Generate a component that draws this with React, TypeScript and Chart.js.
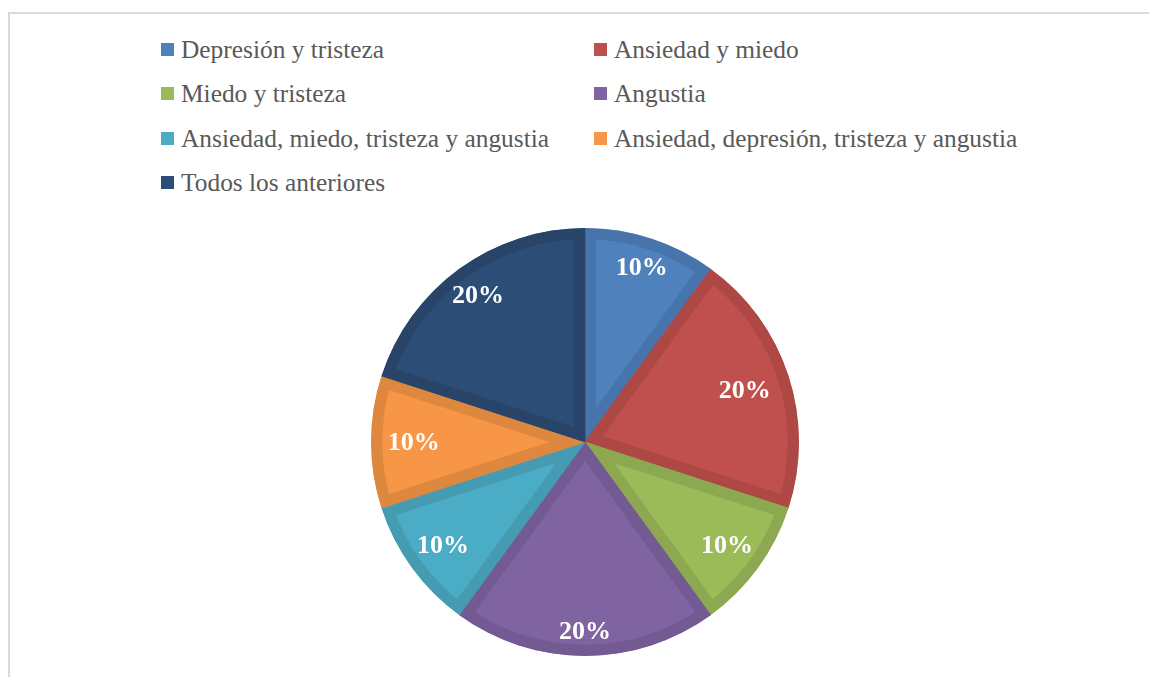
import React, { useEffect, useRef } from "react";
import { Chart, registerables } from "chart.js";

Chart.register(...registerables);

const categories: string[] = [
  "Depresión y tristeza",
  "Ansiedad y miedo",
  "Miedo y tristeza",
  "Angustia",
  "Ansiedad, miedo, tristeza y angustia",
  "Ansiedad, depresión, tristeza y angustia",
  "Todos los anteriores",
];
const values: number[] = [10, 20, 10, 20, 10, 10, 20];
const colors: string[] = ["#4F81BD", "#C0504D", "#9BBB59", "#8064A2", "#4BACC6", "#F79646", "#2C4D75"];
const labelRadii: number[] = [0.86, 0.785, 0.82, 0.885, 0.82, 0.8, 0.85];

function darken(hex: string, f: number): string {
  const n = parseInt(hex.slice(1), 16);
  const r = Math.round(((n >> 16) & 255) * f);
  const g = Math.round(((n >> 8) & 255) * f);
  const b = Math.round((n & 255) * f);
  return `rgb(${r},${g},${b})`;
}

const labelPlugin = {
  id: "sliceLabels",
  afterDatasetsDraw(chart: any) {
    const ctx = chart.ctx;
    const meta = chart.getDatasetMeta(0);
    const data = chart.data.datasets[0].data as number[];
    const total = data.reduce((a, b) => a + b, 0);
    ctx.save();
    ctx.fillStyle = "#ffffff";
    ctx.font = "bold 26px 'Liberation Serif'";
    ctx.textAlign = "center";
    ctx.textBaseline = "middle";
    meta.data.forEach((arc: any, i: number) => {
      const p = arc.getProps(["x", "y", "startAngle", "endAngle", "outerRadius"], true);
      const mid = (p.startAngle + p.endAngle) / 2;
      const r = p.outerRadius * labelRadii[i];
      const txt = Math.round((data[i] / total) * 100) + "%";
      ctx.fillText(txt, p.x + Math.cos(mid) * r, p.y + Math.sin(mid) * r + 1);
    });
    ctx.restore();
  },
};

export default function App() {
  const ref = useRef<HTMLCanvasElement | null>(null);
  useEffect(() => {
    if (!ref.current) return;
    const chart = new Chart(ref.current, {
      type: "pie",
      data: {
        labels: categories,
        datasets: [
          {
            data: values,
            backgroundColor: colors,
            borderColor: colors.map((c) => darken(c, 0.9)),
            borderWidth: 11,
            borderAlign: "inner",
            hoverOffset: 0,
            offset: 0,
          } as any,
        ],
      },
      options: {
        animation: false,
        responsive: false,
        maintainAspectRatio: false,
        layout: { padding: 0 },
        plugins: {
          legend: { display: false },
          tooltip: { enabled: false },
        },
        events: [],
      },
      plugins: [labelPlugin],
    });
    return () => chart.destroy();
  }, []);

  return (
    <div>
      <div
        style={{
          position: "absolute",
          left: 8,
          top: 12,
          width: 1200,
          height: 720,
          borderTop: "2px solid #d9d9d9",
          borderLeft: "2px solid #d9d9d9",
          boxSizing: "border-box",
        }}
      />
      <div
        style={{
          position: "absolute",
          left: 161,
          top: 27,
          display: "grid",
          gridTemplateColumns: "433px auto",
          gridAutoRows: "44.5px",
          alignItems: "center",
          fontFamily: "'Liberation Serif', serif",
          fontSize: 25.4,
          color: "#595959",
          whiteSpace: "nowrap",
        }}
      >
        {categories.map((c, i) => (
          <div key={c} style={{ display: "flex", alignItems: "center" }}>
            <span
              style={{
                display: "inline-block",
                width: 13,
                height: 13,
                background: colors[i],
                marginRight: 7,
              }}
            />
            <span>{c}</span>
          </div>
        ))}
      </div>
      <canvas
        ref={ref}
        width={500}
        height={428}
        style={{ position: "absolute", left: 335, top: 228, width: 500, height: 428 }}
      />
    </div>
  );
}
